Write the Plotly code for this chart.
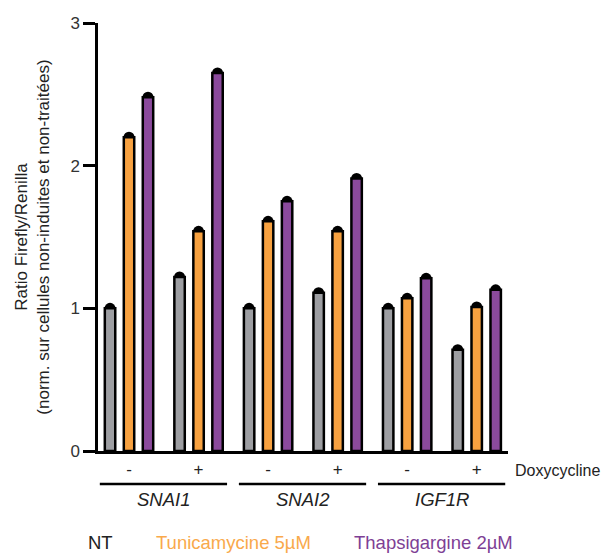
import numpy as np
import plotly.graph_objects as go

# ---- data ----
genes = ["SNAI1", "SNAI2", "IGF1R"]
doxy = ["-", "+", "-", "+", "-", "+"]
series_names = ["NT", "Tunicamycine 5µM", "Thapsigargine 2µM"]
nt = [1.00, 1.22, 1.00, 1.11, 1.00, 0.71]
tunicamycine = [2.20, 1.54, 1.61, 1.54, 1.07, 1.01]
thapsigargine = [2.48, 2.65, 1.75, 1.91, 1.21, 1.13]
y_ticks = [0, 1, 2, 3]

fill_colors = ["#9d9ea2", "#f7a140", "#8b4a9c"]
text_colors = ["#222222", "#f9a94b", "#7e3f95"]

values = [nt, tunicamycine, thapsigargine]
idx = np.arange(len(doxy))
slot = 0.273
bar_w = 0.15

fig = go.Figure()
# caps (drawn beneath bars via overlaying axis order)
for j, vals in enumerate(values):
    fig.add_trace(go.Scatter(
        x=idx + (j - 1) * slot, y=vals, mode="markers",
        marker=dict(symbol="circle", size=11, color="black"),
        showlegend=False, hoverinfo="skip", xaxis="x", yaxis="y"))
for j, vals in enumerate(values):
    fig.add_trace(go.Bar(
        x=idx + (j - 1) * slot, y=vals, width=bar_w, name=series_names[j],
        marker=dict(color=fill_colors[j], line=dict(color="black", width=2.5)),
        showlegend=False, xaxis="x", yaxis="y2"))

font = "Liberation Sans, Arial, sans-serif"
OFF = 8  # page offset of the figure in the screenshot
W, H = 614, 553
L = 98 - OFF
T = 23 - OFF
B = H - (451 - OFF)
R = W - (508 - OFF)
ph = H - T - B
pw = W - L - R

def py(pix):
    return (H - B - (pix - OFF)) / ph

def px(pix):
    return (pix - OFF - L) / pw

annotations = []
for g, gene in enumerate(genes):
    annotations.append(dict(x=2 * g + 0.5, y=py(499), xref="x", yref="paper",
                            text=f"<i>{gene}</i>", showarrow=False,
                            font=dict(family=font, size=18.5, color="#222"),
                            xanchor="center", yanchor="middle"))
annotations.append(dict(x=px(513), y=py(470), xref="paper", yref="paper",
                        text="Doxycycline", showarrow=False,
                        font=dict(family=font, size=16, color="#222"),
                        xanchor="left", yanchor="middle"))
legend_x = [100.5, 233, 433.5]
for j, name in enumerate(series_names):
    annotations.append(dict(x=px(legend_x[j]), y=py(542), xref="paper", yref="paper",
                            text=name, showarrow=False,
                            font=dict(family=font, size=18.5, color=text_colors[j]),
                            xanchor="center", yanchor="middle"))

shapes = []
for g in range(len(genes)):
    shapes.append(dict(type="line", xref="x", yref="paper",
                       x0=2 * g - 0.42, x1=2 * g + 1.41, y0=py(484), y1=py(484),
                       line=dict(color="black", width=2.5)))

fig.update_layout(
    width=W, height=H,
    margin=dict(l=L, r=R, t=T, b=B, autoexpand=False),
    plot_bgcolor="white", paper_bgcolor="white",
    font=dict(family=font, color="#222"),
    xaxis=dict(range=[-0.446, 5.45], tickvals=list(idx), ticktext=doxy,
               showgrid=False, zeroline=False, showline=True, linecolor="black",
               linewidth=2.5, ticks="", tickfont=dict(size=17, color="#222"),
               ticklabelstandoff=1),
    yaxis=dict(range=[0, 3], tickvals=y_ticks, showgrid=False, zeroline=False,
               showline=True, linecolor="black", linewidth=2.5, ticks="outside",
               ticklen=12, tickwidth=2.5, tickcolor="black",
               tickfont=dict(size=17, color="#333"),
               title=dict(text="Ratio Firefly/Renilla<br>(norm. sur cellules non-induites et non-traitées)",
                          font=dict(size=17, color="#222"), standoff=17)),
    yaxis2=dict(range=[0, 3], overlaying="y", visible=False),
    annotations=annotations, shapes=shapes,
)

fig.write_html("out.html")
